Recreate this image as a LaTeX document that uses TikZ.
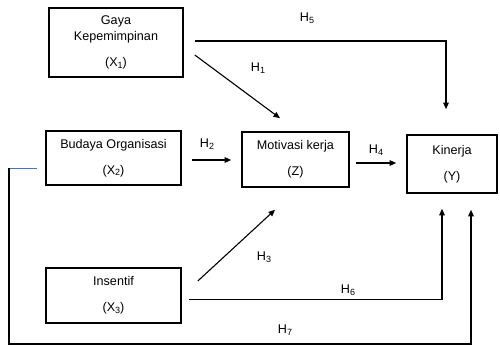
\documentclass[tikz,border=0pt]{standalone}
\usepackage{fontspec}
\setmainfont{Liberation Sans}
\usepackage{tikz}
\usetikzlibrary{positioning,arrows.meta,calc}
\definecolor{linkblue}{RGB}{68,114,196}
\newcommand{\lowdigit}[1]{\raisebox{-1.5pt}{\fontsize{9}{9}\selectfont #1}}
\newcommand{\hyp}[1]{H\lowdigit{#1}}
\tikzset{
  varbox/.style ={rectangle, draw=black, line width=1.6pt, inner sep=0pt,
                  align=center, font=\fontsize{12.6}{16}\selectfont},
  hlabel/.style ={font=\fontsize{12.6}{14}\selectfont, inner sep=0pt},
  flow/.style   ={-{Triangle[length=6.5pt,width=5.5pt]}, line width=1.1pt, draw=black},
}
\begin{document}
\begin{tikzpicture}[x=1pt,y=-1pt]
  \useasboundingbox (0,0) rectangle (500,347);
  \node[varbox, minimum width=134pt, minimum height=69pt] (x1) at (116,42.5)
    {Gaya\\Kepemimpinan\\[10pt](X\lowdigit{1})};
  \node[varbox, minimum width=135pt, minimum height=54pt] (x2) at (113.5,158)
    {Budaya Organisasi\\[10pt](X\lowdigit{2})};
  \node[varbox, minimum width=135pt, minimum height=55pt] (x3) at (113.5,295.5)
    {Insentif\\[10pt](X\lowdigit{3})};
  \node[varbox, minimum width=107pt, minimum height=55pt] (z) at (295.5,159.5)
    {Motivasi kerja\\[10pt](Z)};
  \node[varbox, minimum width=90pt, minimum height=58pt] (y) at (452,164)
    {Kinerja\\[10pt](Y)};
  % hypothesis labels
  \node[hlabel] (h5) at (307,18)  {\hyp{5}};
  \node[hlabel] (h1) at (258,68)  {\hyp{1}};
  \node[hlabel] (h2) at (207,144) {\hyp{2}};
  \node[hlabel] (h4) at (376,150) {\hyp{4}};
  \node[hlabel] (h3) at (264,257) {\hyp{3}};
  \node[hlabel] (h6) at (348,290) {\hyp{6}};
  \node[hlabel] (h7) at (285,330) {\hyp{7}};
  \coordinate (h7turn) at (9,168);
  \coordinate (h7low)  at (9,344);
  % connectors
  \draw[flow] ([xshift=11pt,yshift=1.5pt]x1.east) -| ([xshift=-6pt,yshift=25pt]y.north);
  \draw[flow] ([xshift=11pt,yshift=-12.5pt]x1.east) -- ([xshift=-15.5pt,yshift=13pt]z.north);
  \draw[flow] ([xshift=10pt,yshift=-2pt]x2.east) -- ([xshift=-10pt,yshift=-2pt]x2.east -| z.west);
  \draw[flow] ([xshift=6pt,yshift=-3.5pt]z.east) -- ([xshift=-10pt,yshift=-3.5pt]z.east -| y.west);
  \draw[flow] ([xshift=16pt,yshift=14.5pt]x3.east) -- ([xshift=-20.5pt,yshift=-22pt]z.south);
  \draw[flow] ([xshift=7pt,yshift=-4pt]x3.east) -| ([xshift=-10pt,yshift=-15pt]y.south);
  \draw[linkblue, line width=0.8pt] ([xshift=-8pt,yshift=-10pt]x2.west) -- (h7turn);
  \draw[flow] (h7turn) -- (h7low) -| ([xshift=19pt,yshift=-16pt]y.south);
\end{tikzpicture}
\end{document}
